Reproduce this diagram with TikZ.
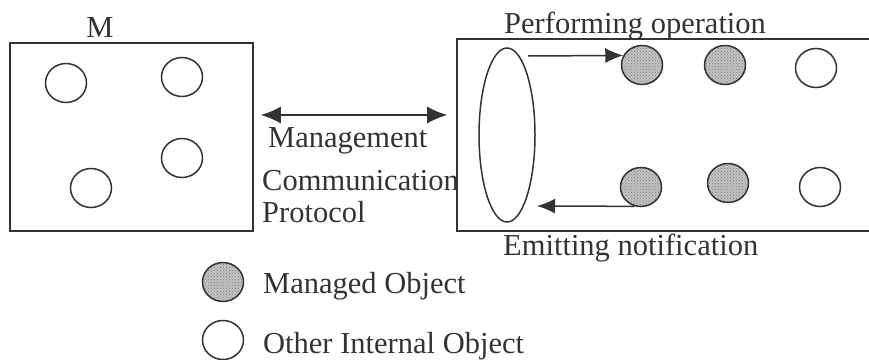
\documentclass[tikz,border=0pt]{standalone}
\usepackage{fontspec}
\setmainfont{Liberation Serif}
\usetikzlibrary{arrows.meta,shapes.geometric,patterns}

\definecolor{ink}{gray}{0.2}
\definecolor{shade}{gray}{0.76}

\tikzset{
  frame/.style={draw=ink, line width=1.6pt, rectangle, inner sep=0pt},
  obj/.style={draw=ink, line width=1.5pt, ellipse, inner sep=0pt,
    minimum width=41pt, minimum height=39pt},
  managed/.style={obj, preaction={fill=shade},
    pattern=crosshatch dots, pattern color=black!50},
  lbl/.style={text=ink, anchor=base west, inner sep=0pt,
    font=\fontsize{30.5}{36}\selectfont},
  link/.style={draw=ink, line width=1.5pt,
    -{Latex[length=18pt,width=15pt]}},
  dlink/.style={draw=ink, line width=1.5pt,
    {Latex[length=20pt,width=17pt]}-{Latex[length=20pt,width=17pt]}},
}

\begin{document}
\begin{tikzpicture}[x=1pt, y=-1pt]
\useasboundingbox (0,0) rectangle (869,359);

% manager system
\node[frame, minimum width=243pt, minimum height=188pt] (mgr) at (131.5,137) {};
\node[lbl, anchor=base] (mlabel) at (100,37) {M};
\node[obj] (m1) at (66,83) {};
\node[obj] (m2) at (182,77) {};
\node[obj] (m3) at (182,158) {};
\node[obj] (m4) at (91,188) {};

% protocol label
\node[lbl] (t1) at (268,147) {Management};
\node[lbl] (t2) at (262,190) {Communication};
\node[lbl] (t3) at (262,222) {Protocol};

% agent system (runs past the right edge)
\node[frame, fill=white, minimum width=423pt, minimum height=192pt] (agt) at (668.5,135) {};
\node[draw=ink, line width=1.5pt, ellipse, inner sep=0pt,
      minimum width=56pt, minimum height=174pt] (agent) at (507,135) {};

\node[managed] (a1) at (642,65) {};
\node[managed] (a2) at (725,65) {};
\node[obj] (a3) at (816,68) {};
\node[managed] (a4) at (641,187) {};
\node[managed] (a5) at (728,183) {};
\node[obj] (a6) at (820,187) {};

\node[lbl] (perf) at (504,33) {Performing operation};
\node[lbl] (emit) at (503,255) {Emitting notification};

% connectors
\draw[dlink, shorten <=7pt, shorten >=9pt] (mgr.east |- 0,115) -- (agt.west |- 0,115);
\coordinate (opstart) at (528,56);
\draw[link] (opstart) -- (a1.153);
\coordinate (notend) at (537,206);
\draw[link] (a4.252) -- (notend);

% legend
\node[managed] (k1) at (223,282) {};
\node[obj] (k2) at (223,340) {};
\node[lbl] (k1t) at (263,293) {Managed Object};
\node[lbl] (k2t) at (263,353) {Other Internal Object};
\end{tikzpicture}
\end{document}
